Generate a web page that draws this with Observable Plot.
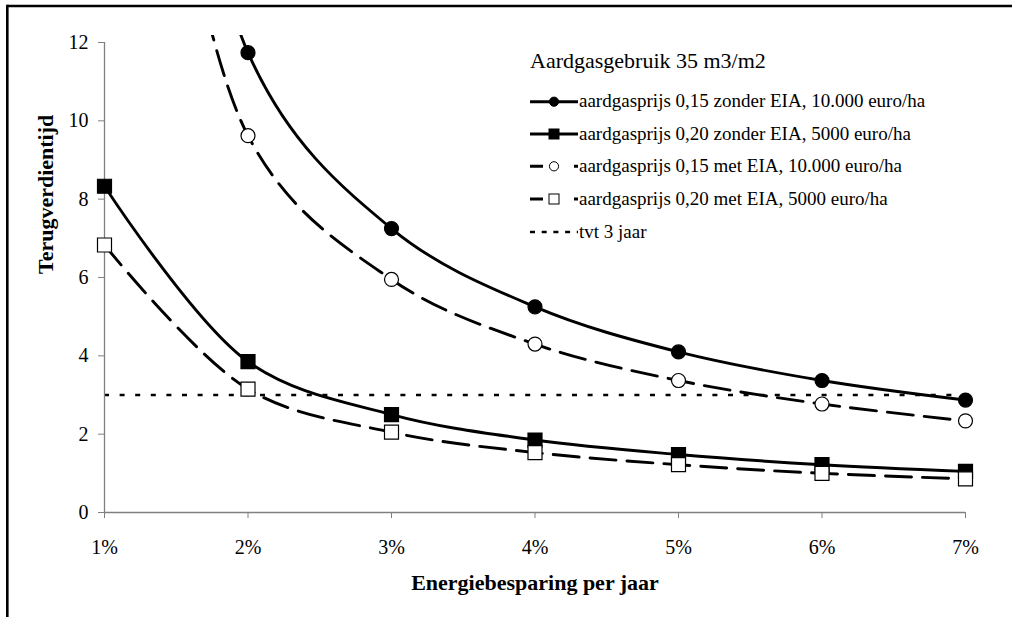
<!DOCTYPE html>
<html>
<head>
<meta charset="utf-8">
<script src="https://cdn.jsdelivr.net/npm/d3@7"></script>
<script src="https://cdn.jsdelivr.net/npm/@observablehq/plot@0.6"></script>
<style>
  html, body { margin: 0; padding: 0; background: #fff; }
  #chart svg { display: block; }
</style>
</head>
<body>
<div id="chart"></div>
<script>
// Energiebesparing per jaar (%)
const besparing = [1, 2, 3, 4, 5, 6, 7];

// Terugverdientijd (jaar) per scenario
const gas015Zonder = [36, 11.74, 7.25, 5.25, 4.10, 3.37, 2.87];
const gas020Zonder = [8.33, 3.85, 2.50, 1.85, 1.48, 1.22, 1.05];
const gas015Met = [29.5, 9.62, 5.95, 4.30, 3.37, 2.77, 2.34];
const gas020Met = [6.83, 3.15, 2.05, 1.53, 1.22, 1.00, 0.86];

const reeksNamen = [
  "aardgasprijs 0,15 zonder EIA, 10.000 euro/ha",
  "aardgasprijs 0,20 zonder EIA, 5000 euro/ha",
  "aardgasprijs 0,15 met EIA, 10.000 euro/ha",
  "aardgasprijs 0,20 met EIA, 5000 euro/ha"
];
const drempelNaam = "tvt 3 jaar";
const drempel = 3;
const legendaTitel = "Aardgasgebruik 35 m3/m2";

const yTicks = [0, 2, 4, 6, 8, 10, 12];
const yMax = 12;
const xLabel = "Energiebesparing per jaar";
const yLabel = "Terugverdientijd";

const FONT = "'Liberation Serif', 'Times New Roman', serif";
const AXIS = "#808080";
const DASH = "26,11";

const reeksen = [
  {naam: reeksNamen[0], waarden: gas015Zonder, symbol: "circle", open: false, dash: null},
  {naam: reeksNamen[1], waarden: gas020Zonder, symbol: "square", open: false, dash: null},
  {naam: reeksNamen[2], waarden: gas015Met, symbol: "circle", open: true, dash: DASH},
  {naam: reeksNamen[3], waarden: gas020Met, symbol: "square", open: true, dash: DASH}
];

const rows = reeksen.map(s => besparing.map((x, i) => ({x, y: s.waarden[i], reeks: s.naam})));

// Curves are clipped at the top of the plot area
const lineMarks = reeksen.map((s, k) => Plot.line(rows[k], {
  x: "x", y: "y", curve: "catmull-rom", stroke: "black", strokeWidth: 2.9,
  strokeDasharray: s.dash ?? undefined, clip: true
}));

// Markers only for values inside the value axis range
const dotMarks = reeksen.map((s, k) => Plot.dot(rows[k].filter(d => d.y <= yMax), {
  x: "x", y: "y", symbol: () => s.symbol,
  r: s.symbol === "square" ? 7.9 : 7,
  fill: s.open ? "white" : "black", stroke: "black", strokeWidth: 1.2
}));

const chart = Plot.plot({
  width: 1012,
  height: 617,
  marginLeft: 104,
  marginRight: 47,
  marginTop: 35,
  marginBottom: 105,
  style: {fontFamily: FONT, fontSize: "20px", color: "black", background: "white"},
  x: {domain: [1, 7]},
  y: {domain: [0, yMax + 7 / 39.17]},
  symbol: {type: "identity"},
  marks: [
    Plot.ruleY([drempel], {x1: 1, x2: 7, stroke: "black", strokeWidth: 2.6, strokeDasharray: "5,10.6"}),
    Plot.ruleX([1], {y1: 0, y2: yMax, stroke: AXIS, strokeWidth: 1.3}),
    Plot.ruleY([0], {x1: 1, x2: 7, stroke: AXIS, strokeWidth: 1.3}),
    Plot.axisY({ticks: yTicks, tickSize: 6, tickPadding: 10, stroke: AXIS, fill: "black", label: null, fontSize: 20}),
    Plot.axisX({ticks: besparing, tickSize: 6, tickPadding: 21, tickFormat: d => d + "%", stroke: AXIS, fill: "black", label: null, fontSize: 20}),
    ...lineMarks,
    ...dotMarks,
    Plot.text([xLabel], {frameAnchor: "bottom", lineAnchor: "bottom", dy: 77, fontWeight: "bold", fontSize: 22, fill: "black"}),
    Plot.text([yLabel], {frameAnchor: "left", lineAnchor: "middle", rotate: -90, dx: -59, fontWeight: "bold", fontSize: 22, fill: "black"})
  ]
});

document.getElementById("chart").appendChild(chart);

// Legend and outer frame lines
const svg = d3.select(chart);
const leg = svg.append("g").attr("font-family", FONT).attr("fill", "black").attr("text-anchor", "start");
leg.append("text").attr("x", 530).attr("y", 68).attr("font-size", 22).text(legendaTitel);

const rowY = [101.7, 134, 166.3, 199, 232];
reeksen.forEach((s, i) => {
  const cy = rowY[i];
  leg.append("line").attr("x1", 530).attr("x2", 578).attr("y1", cy).attr("y2", cy)
    .attr("stroke", "black").attr("stroke-width", 3)
    .attr("stroke-dasharray", s.dash ? "13,31,4" : null);
  if (s.symbol === "circle") {
    leg.append("circle").attr("cx", 554).attr("cy", cy).attr("r", 4.6)
      .attr("fill", s.open ? "white" : "black").attr("stroke", "black").attr("stroke-width", 1);
  } else {
    leg.append("rect").attr("x", 549).attr("y", cy - 5).attr("width", 10).attr("height", 10)
      .attr("fill", s.open ? "white" : "black").attr("stroke", "black").attr("stroke-width", 1);
  }
  leg.append("text").attr("x", 579).attr("y", cy + 5.5).attr("font-size", 19).text(s.naam);
});
leg.append("line").attr("x1", 530).attr("x2", 578).attr("y1", rowY[4]).attr("y2", rowY[4])
  .attr("stroke", "black").attr("stroke-width", 2.6).attr("stroke-dasharray", "5,6.7");
leg.append("text").attr("x", 579).attr("y", rowY[4] + 5.5).attr("font-size", 19).text(drempelNaam);

svg.append("line").attr("x1", 7).attr("x2", 1012).attr("y1", 6).attr("y2", 6)
  .attr("stroke", "black").attr("stroke-width", 2.6);
svg.append("line").attr("x1", 7.3).attr("x2", 7.3).attr("y1", 4.7).attr("y2", 617)
  .attr("stroke", "black").attr("stroke-width", 2.6);
</script>
</body>
</html>
